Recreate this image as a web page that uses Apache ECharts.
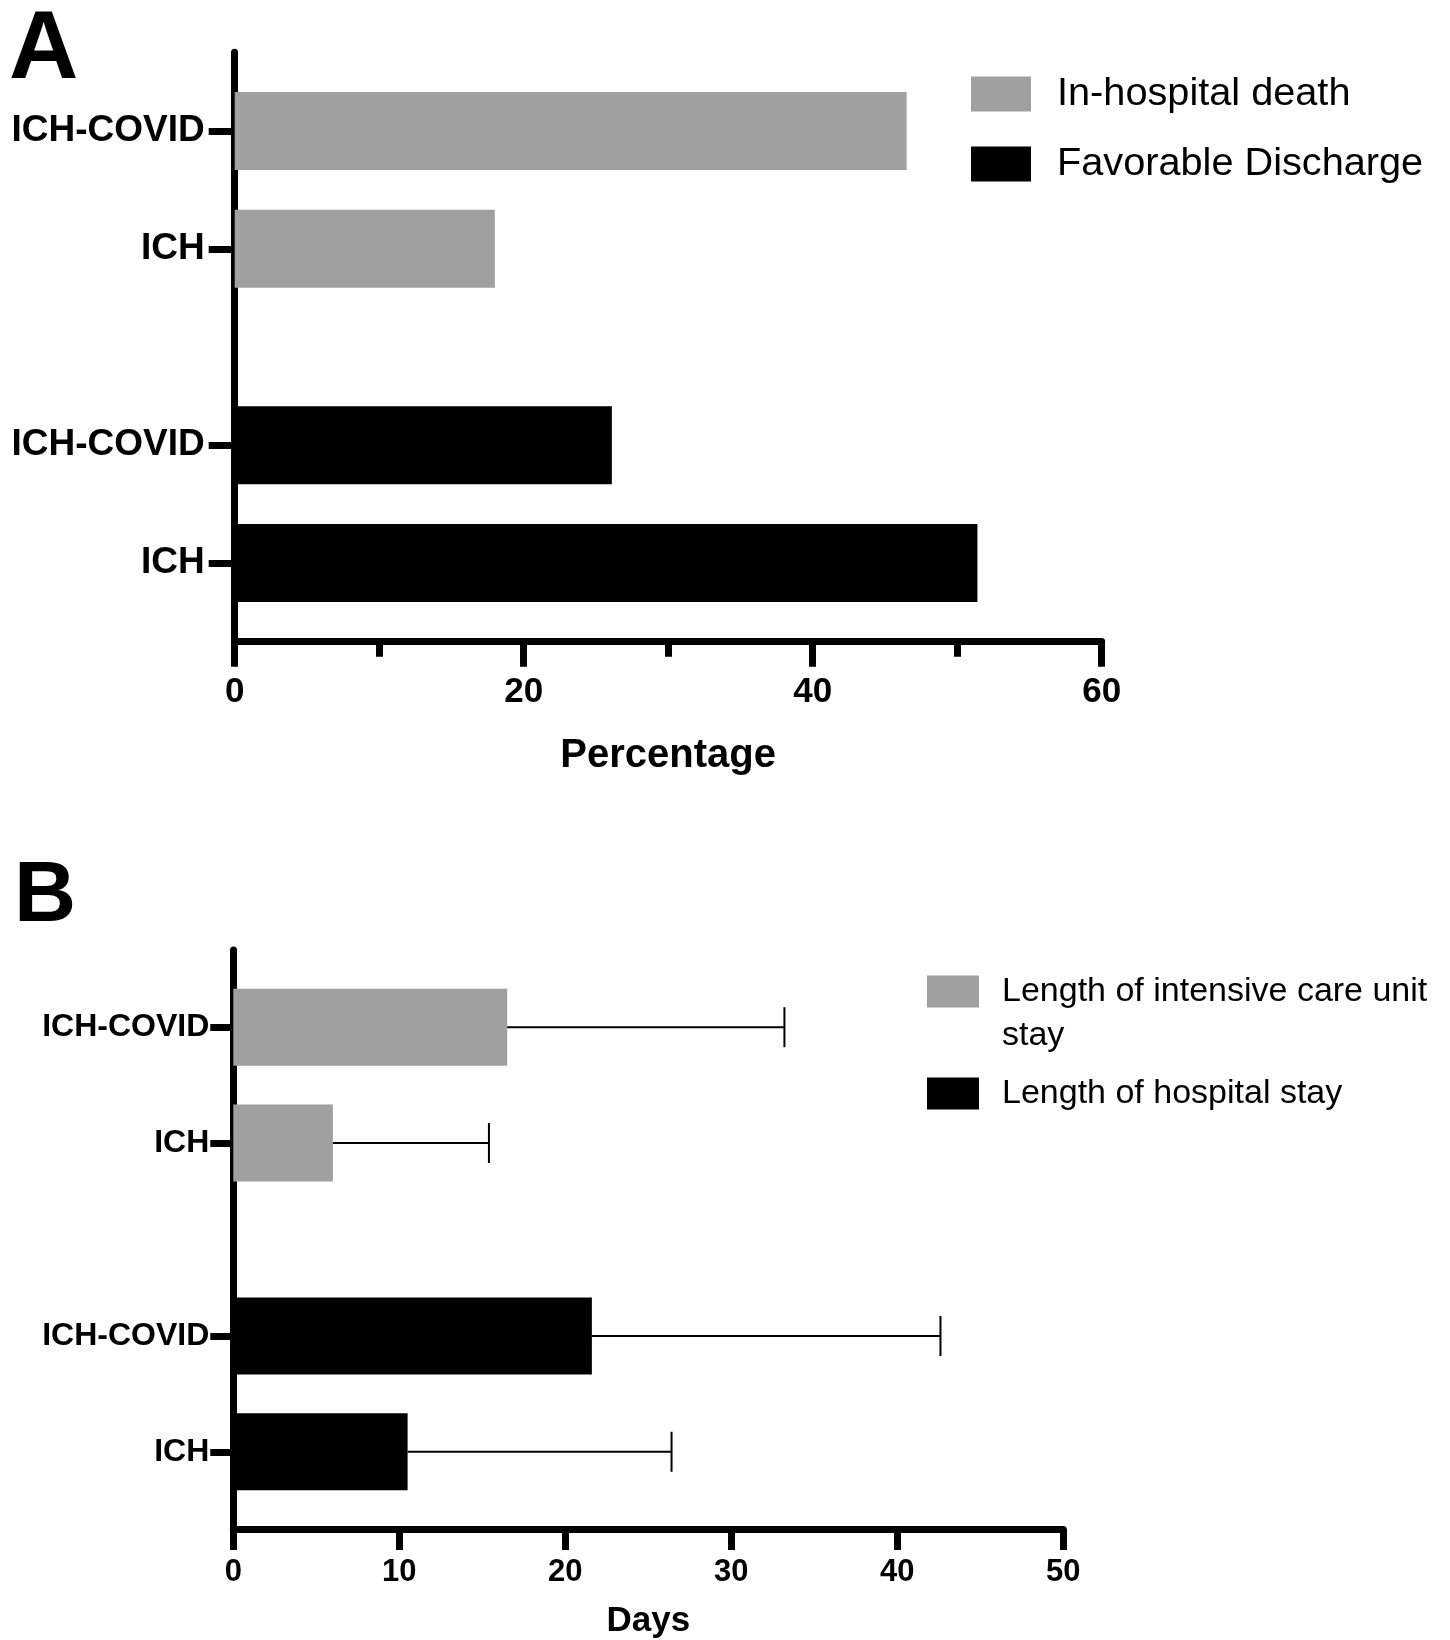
<!DOCTYPE html>
<html><head><meta charset="utf-8">
<script src="https://cdn.jsdelivr.net/npm/echarts@6/dist/echarts.min.js"></script>
<style>html,body{margin:0;padding:0;background:#fff}#c{width:1450px;height:1640px}</style>
</head><body><div id="c"></div>
<script>
// ---- data ----
const groupLabels = ['ICH-COVID', 'ICH'];
const slotIndexGray = [2, 5];     // slot positions on the category axis (blank slots separate groups)
const slotIndexBlack = [10, 13];
const slotCount = 16;

const outcomeNames = ['In-hospital death', 'Favorable Discharge'];
const deathPct = [46.5, 18.0];       // ICH-COVID, ICH
const favorablePct = [26.1, 51.4];   // ICH-COVID, ICH
const pctAxis = { min: 0, max: 60, interval: 20 };

const stayNames = ['Length of intensive care unit stay', 'Length of hospital stay'];
const icuMean = [16.5, 6.0];
const icuSD = [16.7, 9.4];
const hospMean = [21.6, 10.5];
const hospSD = [21.0, 15.9];
const dayAxis = { min: 0, max: 50, interval: 10 };

// ---- helpers ----
const FONT = '"Liberation Sans", Arial, Helvetica, sans-serif';
const cats = Array.from({ length: slotCount }, (_, i) => 's' + i);
const labelMap = {};
slotIndexGray.forEach((s, i) => labelMap[s] = groupLabels[i]);
slotIndexBlack.forEach((s, i) => labelMap[s] = groupLabels[i]);
function slotData(vals, slots) {
  const arr = new Array(slotCount).fill('-');
  slots.forEach((s, i) => arr[s] = vals[i]);
  return arr;
}
function errData(means, sds, slots) {
  return slots.map((s, i) => [s, means[i], means[i] + sds[i]]);
}
const hasLabel = (i) => labelMap[i] !== undefined;

function yAxis(gridIndex, fontSize, margin, tickLen, padTop) {
  return {
    type: 'category', gridIndex, inverse: true, boundaryGap: false, data: cats,
    axisLine: { show: true, lineStyle: { color: '#000', width: 7 } },
    axisTick: { show: true, length: tickLen, interval: hasLabel, lineStyle: { color: '#000', width: 7 } },
    axisLabel: { show: true, interval: hasLabel, formatter: (v, i) => labelMap[i] || '', margin, fontSize,
      fontWeight: 'bold', color: '#000', fontFamily: FONT, padding: [padTop, 0, 0, 0] },
    splitLine: { show: false }
  };
}
function xAxis(gridIndex, ax, name, fs, margin, tickLen, nameFs, nameGap, minor) {
  return {
    type: 'value', gridIndex, min: ax.min, max: ax.max, interval: ax.interval,
    axisLine: { show: true, onZero: false, lineStyle: { color: '#000', width: 7 } },
    axisTick: { show: true, length: tickLen, lineStyle: { color: '#000', width: 7 } },
    minorTick: { show: minor, splitNumber: 2, length: 15, lineStyle: { color: '#000', width: 7 } },
    axisLabel: { fontSize: fs, fontWeight: 'bold', margin, color: '#000', fontFamily: FONT },
    splitLine: { show: false }, minorSplitLine: { show: false },
    name, nameLocation: 'middle', nameGap,
    nameTextStyle: { fontSize: nameFs, fontWeight: 'bold', color: '#000', fontFamily: FONT }
  };
}
function errRender(params, api) {
  const y = api.value(0), m = api.value(1), u = api.value(2);
  const p0 = api.coord([m, y]), p1 = api.coord([u, y]);
  const cap = 20;
  return { type: 'group', children: [
    { type: 'line', shape: { x1: p0[0], y1: p0[1], x2: p1[0], y2: p1[1] }, style: { stroke: '#000', lineWidth: 2 } },
    { type: 'line', shape: { x1: p1[0], y1: p1[1] - cap, x2: p1[0], y2: p1[1] + cap }, style: { stroke: '#000', lineWidth: 2 } }
  ] };
}

const GRAY = '#a0a0a0', BLACK = '#000000';
const chart = echarts.init(document.getElementById('c'), null, { renderer: 'canvas' });
chart.setOption({
  backgroundColor: '#fff',
  animation: false,
  title: [
    { text: 'A', left: 9, top: 4, padding: 0, textStyle: { fontSize: 96, fontWeight: 'bold', color: '#000', fontFamily: FONT } },
    { text: 'B', left: 14, top: 854, padding: 0, textStyle: { fontSize: 86, fontWeight: 'bold', color: '#000', fontFamily: FONT } }
  ],
  grid: [
    { left: 234.7, top: 52.3, width: 867, height: 589.4, containLabel: false },
    { left: 233.3, top: 950, width: 830, height: 579.3, containLabel: false }
  ],
  legend: [
    { data: outcomeNames, orient: 'vertical', left: 971, top: 74, padding: 0, itemWidth: 60, itemHeight: 35, itemGap: 30,
      icon: 'rect', selectedMode: false,
      textStyle: { fontSize: 39.7, lineHeight: 39, color: '#000', fontFamily: FONT, padding: [0, 0, 0, 21] } },
    { data: [stayNames[0]], orient: 'vertical', left: 927, top: 924, padding: 0, itemWidth: 52, itemHeight: 32,
      icon: 'rect', selectedMode: false,
      formatter: () => ' \nLength of intensive care unit\nstay',
      textStyle: { fontSize: 34, lineHeight: 44, color: '#000', fontFamily: FONT, padding: [3, 0, 0, 18] } },
    { data: [stayNames[1]], orient: 'vertical', left: 927, top: 1070, padding: 0, itemWidth: 52, itemHeight: 32,
      icon: 'rect', selectedMode: false,
      textStyle: { fontSize: 34, lineHeight: 44, color: '#000', fontFamily: FONT, padding: [3, 0, 0, 18] } }
  ],
  xAxis: [
    xAxis(0, pctAxis, 'Percentage', 35, 33, 25, 40, 94, true),
    xAxis(1, dayAxis, 'Days', 31, 28, 21, 35, 75, false)
  ],
  yAxis: [
    yAxis(0, 37, 30, 26, 6),
    yAxis(1, 32, 24, 23, 4)
  ],
  series: [
    { type: 'bar', name: outcomeNames[0], xAxisIndex: 0, yAxisIndex: 0, barWidth: 78, barGap: '-100%',
      data: slotData(deathPct, slotIndexGray), itemStyle: { color: GRAY } },
    { type: 'bar', name: outcomeNames[1], xAxisIndex: 0, yAxisIndex: 0, barWidth: 78, barGap: '-100%',
      data: slotData(favorablePct, slotIndexBlack), itemStyle: { color: BLACK } },
    { type: 'bar', name: stayNames[0], xAxisIndex: 1, yAxisIndex: 1, barWidth: 77, barGap: '-100%',
      data: slotData(icuMean, slotIndexGray), itemStyle: { color: GRAY } },
    { type: 'bar', name: stayNames[1], xAxisIndex: 1, yAxisIndex: 1, barWidth: 77, barGap: '-100%',
      data: slotData(hospMean, slotIndexBlack), itemStyle: { color: BLACK } },
    { type: 'custom', xAxisIndex: 1, yAxisIndex: 1, silent: true, z: 3, encode: { x: [1, 2], y: 0 },
      data: errData(icuMean, icuSD, slotIndexGray).concat(errData(hospMean, hospSD, slotIndexBlack)),
      renderItem: errRender }
  ]
});
</script></body></html>
